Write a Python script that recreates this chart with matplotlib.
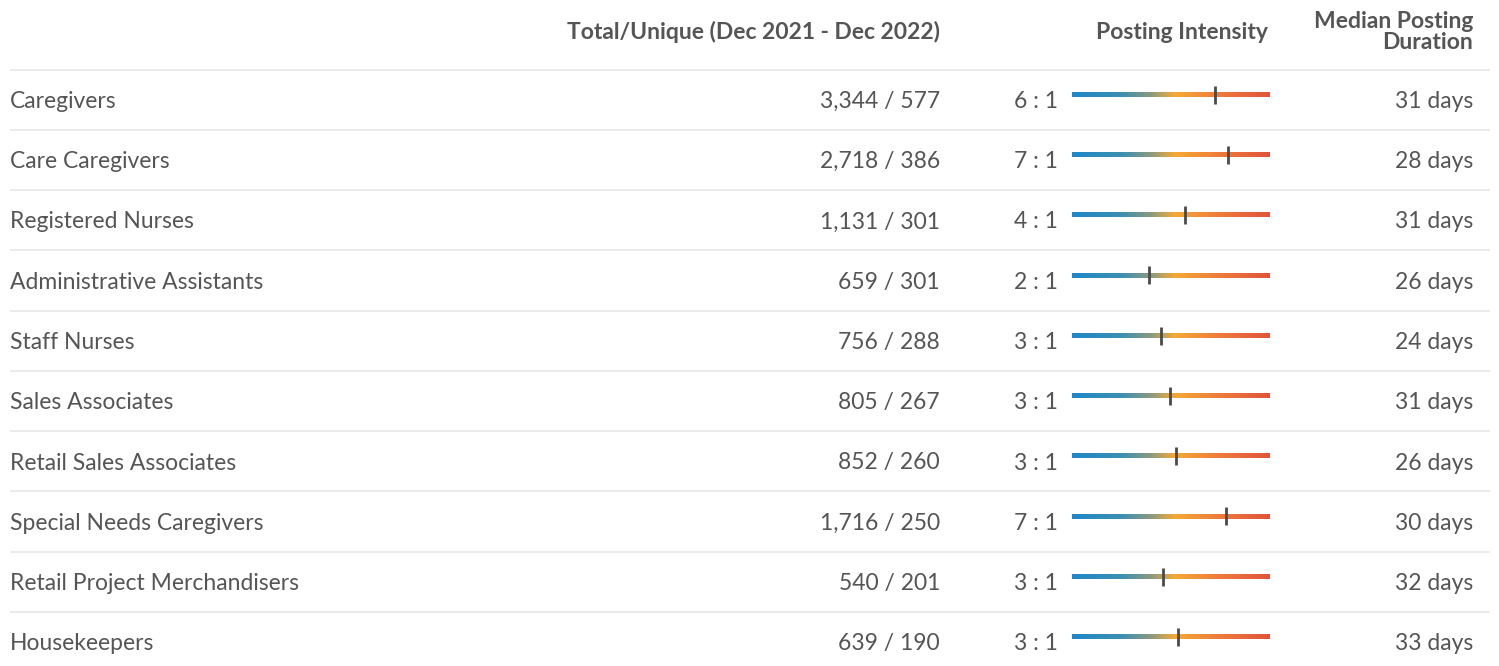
import numpy as np
import matplotlib.pyplot as plt
from matplotlib.colors import LinearSegmentedColormap

# table data
occupations = ['Caregivers', 'Care Caregivers', 'Registered Nurses', 'Administrative Assistants',
               'Staff Nurses', 'Sales Associates', 'Retail Sales Associates',
               'Special Needs Caregivers', 'Retail Project Merchandisers', 'Housekeepers']
total = [3344, 2718, 1131, 659, 756, 805, 852, 1716, 540, 639]
unique = [577, 386, 301, 301, 288, 267, 260, 250, 201, 190]
median_days = [31, 28, 31, 26, 24, 31, 26, 30, 32, 33]

W, H = 1499, 666
TEXT = '#555555'
plt.rcParams['font.family'] = ['Lato', 'DejaVu Sans']

fig = plt.figure(figsize=(W / 100, H / 100), dpi=100)
ax = fig.add_axes([0, 0, 1, 1])
ax.set_xlim(0, W)
ax.set_ylim(H, 0)
ax.axis('off')

# column positions (pixels)
x_label, x_total, x_ratio, x_days = 10, 940, 1058, 1473
bar_l, bar_r = 1072, 1270
row0, pitch = 100, 60.25

# header
hdr = dict(fontsize=16.5, fontweight='bold', color=TEXT)
ax.text(x_total, 39, 'Total/Unique (Dec 2021 - Dec 2022)', ha='right', va='baseline', **hdr)
ax.text(bar_r - 2, 39, 'Posting Intensity', ha='right', va='baseline', **hdr)
ax.text(x_days, 32, 'Median Posting\nDuration', ha='right', va='center',
        linespacing=1.0, **hdr)

# gradient colormap for intensity bar
cmap = LinearSegmentedColormap.from_list(
    'intensity', [(0, '#1e88c9'), (0.25, '#3d8fb0'), (0.4, '#8d9a7c'),
                  (0.52, '#f6a935'), (0.75, '#ef7a3b'), (1, '#e2533c')])
grad = np.linspace(0, 1, 256).reshape(1, -1)

# log-scaled overlay axes for the intensity markers
axm = fig.add_axes([bar_l / W, 0, (bar_r - bar_l) / W, 1])
axm.set_xscale('log')
axm.set_xlim(0.7, 13.2)
axm.set_ylim(H, 0)
axm.axis('off')

body = dict(fontsize=16.5, color=TEXT, va='baseline')
for i, name in enumerate(occupations):
    y = row0 + pitch * i
    ax.plot([10, 1490], [y - 30.5, y - 30.5], color='#ebebeb', lw=1.5, solid_capstyle='butt')
    yt = y + 8
    ax.text(x_label, yt, name, ha='left', **body)
    ax.text(x_total, yt, f'{total[i]:,} / {unique[i]:,}', ha='right', **body)
    ratio = total[i] / unique[i]
    ax.text(x_ratio, yt, f'{round(ratio)} : 1', ha='right', **body)
    ax.text(x_days, yt, f'{median_days[i]} days', ha='right', **body)

    yb = y - 5.5
    ax.imshow(grad, cmap=cmap, aspect='auto', extent=(bar_l, bar_r, yb + 2.5, yb - 2.5),
              interpolation='bilinear', zorder=3)
    axm.plot([ratio, ratio], [yb - 9, yb + 9], color='#4a4a4a', lw=2, solid_capstyle='butt')

ax.set_xlim(0, W)
ax.set_ylim(H, 0)
fig.savefig('out.png', dpi=100)
